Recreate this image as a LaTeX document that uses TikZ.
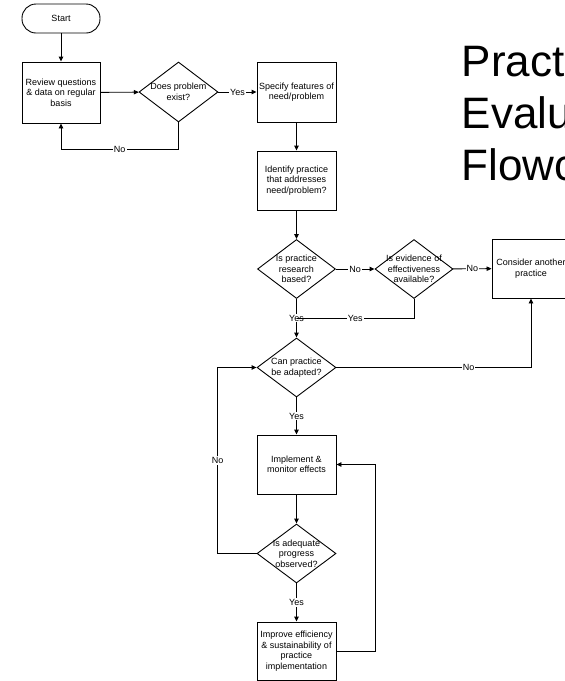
\documentclass[tikz,border=0pt]{standalone}
\usepackage{fontspec}
\setmainfont{Liberation Sans}
\usetikzlibrary{arrows.meta,shapes.geometric}

\tikzset{
	flow/.style={line width=0.9pt,-{Triangle[length=5pt,width=4.5pt]}},
	link/.style={line width=0.9pt},
	procbox/.style={draw,line width=0.9pt,minimum width=79pt,minimum height=59pt,inner sep=0pt,align=center,font=\fontsize{9}{10.5}\selectfont},
	decision/.style={draw,diamond,line width=0.9pt,minimum width=79pt,minimum height=59pt,inner sep=0pt},
	dtext/.style={align=center,inner sep=0pt,font=\fontsize{9}{10.5}\selectfont},
	lbl/.style={fill=white,inner sep=1pt,font=\fontsize{9}{10.5}\selectfont}
}

\begin{document}
\begin{tikzpicture}[x=1pt,y=-1pt]
		\useasboundingbox (0,0) rectangle (565,681);
		\clip (0,0) rectangle (565,681);
		% Title
		\node[anchor=north west,inner sep=0pt,align=left,font=\fontsize{44}{52}\selectfont] (title) at (461.5,44) {Practice\\Evaluation\\Flowchart};
		% Draw boxes and decisions
		\node[procbox,rounded corners=14pt,minimum height=29pt,minimum width=78pt] (start) at (61,18.5) {Start};
		\node[procbox,minimum height=61pt,minimum width=78pt] (review) at (61,92.5) {Review questions\\\& data on regular\\basis};
		\node[decision,minimum height=60pt] (d1) at (178.5,92) {};
		\node[dtext] (d1t) at (d1) {Does problem\\exist?};
		\node[procbox,minimum height=60pt] (spec) at (296.5,92) {Specify features of\\need/problem};
		\node[procbox] (ident) at (296.5,180.5) {Identify practice\\that addresses\\need/problem?};
		\node[decision,minimum width=78pt] (d2) at (296.5,269) {};
		\node[dtext] (d2t) at (d2) {Is practice\\research\\based?};
		\node[decision,minimum width=78pt] (d3) at (414,269) {};
		\node[dtext] (d3t) at (d3) {Is evidence of\\effectiveness\\available?};
		\node[procbox,minimum width=78pt] (consider) at (531,268.5) {Consider another\\practice};
		\node[decision] (d4) at (296.5,367.5) {};
		\node[dtext] (d4t) at (d4) {Can practice\\be adapted?};
		\node[procbox] (impl) at (296.5,464.5) {Implement \&\\monitor effects};
		\node[decision] (d5) at (296.5,553.5) {};
		\node[dtext] (d5t) at (d5) {Is adequate\\progress\\observed?};
		\node[procbox,minimum height=58pt] (improve) at (296.5,651) {Improve efficiency\\\& sustainability of\\practice\\implementation};
		% Draw plain arrows
		\foreach \from/\to in {start/review,review/d1,spec/ident,ident/d2,impl/d5}
			\draw[flow] (\from) -- (\to);
		% Draw labelled arrows
		\draw[flow] (d1) -- node[lbl] (yes1) {Yes} (spec);
		\draw[flow] (d1.south) -- ++(0,27) -| node[lbl,pos=0.25] (no1) {No} (review.south);
		\draw[flow] (d2) -- node[lbl] (no2) {No} (d3);
		\draw[flow] (d3) -- node[lbl] (no3) {No} (consider);
		\draw[flow] (d2) -- node[lbl] (yes2) {Yes} (d4);
		\coordinate (yesjoin) at (296.5,318);
		\draw[link] (d3.south) |- node[lbl,pos=0.75] (yes3) {Yes} (yesjoin);
		\draw[flow] (d4.east) -| node[lbl,pos=0.34] (no4) {No} (consider.south);
		\draw[flow] (d4) -- node[lbl] (yes4) {Yes} (impl);
		\draw[flow] (d5.west) -- ++(-39,0) |- node[lbl,pos=0.25] (no5) {No} (d4.west);
		\draw[flow] (d5) -- node[lbl] (yes5) {Yes} (improve);
		\draw[flow] (improve.east) -- ++(39,0) |- (impl.east);
	\end{tikzpicture}
\end{document}
